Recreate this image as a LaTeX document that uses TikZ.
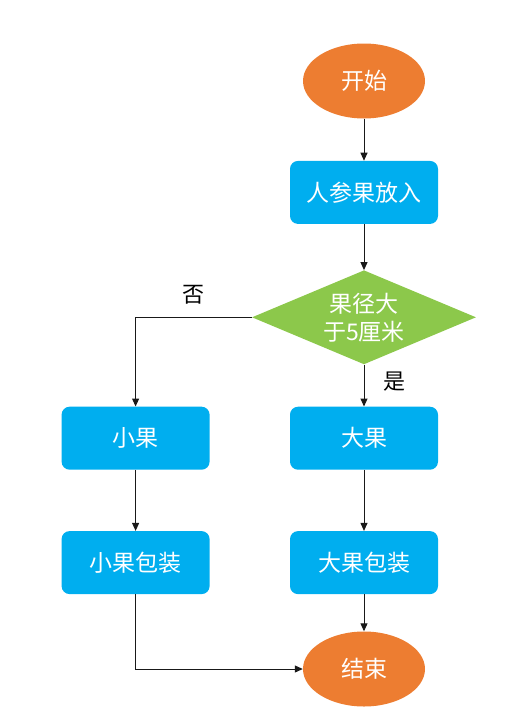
\documentclass[tikz,border=0pt]{standalone}
\usepackage{fontspec}
\setmainfont{Noto Sans CJK SC}
\usetikzlibrary{arrows.meta,positioning,shapes.geometric}
\definecolor{termorange}{HTML}{ED7D31}
\definecolor{procblue}{HTML}{00AEEF}
\definecolor{condgreen}{HTML}{8CC84B}

\begin{document}
\begin{tikzpicture}[
  x=1pt,y=-1pt,
  term/.style={ellipse,fill=termorange,text=white,minimum width=122pt,minimum height=75pt,inner sep=0pt,font=\fontsize{23}{27}\selectfont},
  proc/.style={fill=procblue,rounded corners=8pt,text=white,minimum width=148pt,minimum height=63pt,inner sep=0pt,font=\fontsize{23}{27}\selectfont},
  cond/.style={diamond,fill=condgreen,text=white,aspect=2.38,inner sep=0pt,minimum width=224pt,minimum height=94pt,align=center,font=\fontsize{23}{28}\selectfont},
  lbl/.style={font=\fontsize{22}{26}\selectfont},
  arr/.style={-{Triangle[length=8pt,width=7pt]},line width=1pt,draw=black!90}
]
\useasboundingbox (0,0) rectangle (524,720);
\node[term] (start) at (364,81) {开始};
\node[proc,below=42pt of start] (load) {人参果放入};
\node[cond,below=46pt of load] (check) {果径大\\于5厘米};
\node[proc,below=42pt of check] (big) {大果};
\node[proc,left=80pt of big] (small) {小果};
\node[proc,below=61pt of big] (bigpack) {大果包装};
\node[proc,below=61pt of small] (smallpack) {小果包装};
\node[term,below=37pt of bigpack] (stop) {结束};

\draw[arr] (start) -- (load);
\draw[arr] (load) -- (check);
\draw[arr] (check.west) -| node[lbl,pos=0.25,above=9pt]{否} (small.north);
\draw[arr] (check.south) -- node[lbl,pos=0.4,right=16pt]{是} (big.north);
\draw[arr] (big) -- (bigpack);
\draw[arr] (small) -- (smallpack);
\draw[arr] (bigpack) -- (stop);
\draw[arr] (smallpack.south) |- (stop.west);
\end{tikzpicture}
\end{document}
